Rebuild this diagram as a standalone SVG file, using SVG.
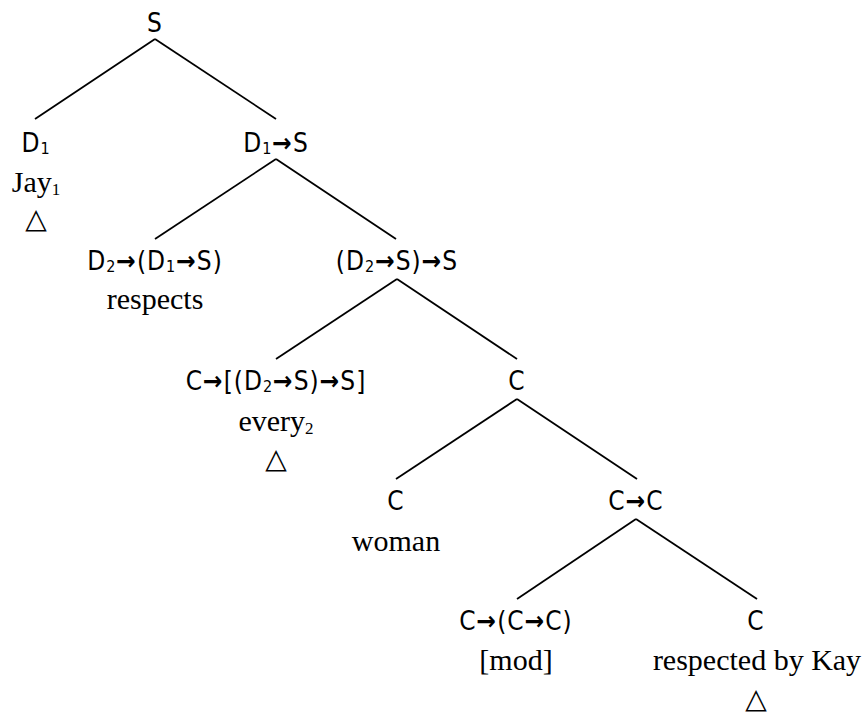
<svg xmlns="http://www.w3.org/2000/svg" width="864" height="715" viewBox="0 0 864 715">
<style>
.cat{font-family:"DejaVu Sans Condensed","DejaVu Sans",sans-serif;font-stretch:condensed;font-size:26px;letter-spacing:1px;fill:#000;text-anchor:middle}
.word{font-family:"Liberation Serif","Times New Roman",serif;font-size:30px;fill:#000;text-anchor:middle}
.sub{font-size:16px}
.wsub{font-size:17px}
.arr{font-weight:bold}
.tri{font-family:"DejaVu Sans",sans-serif;font-size:28px;fill:#000;text-anchor:middle}
.edge{stroke:#000;stroke-width:1.8;fill:none}
</style>
<rect width="864" height="715" fill="#fff"/>
<g id="connectors">
<line class="edge" x1="155" y1="39" x2="35" y2="119"/>
<line class="edge" x1="155" y1="39" x2="276" y2="119"/>
<line class="edge" x1="276" y1="159" x2="155" y2="239"/>
<line class="edge" x1="276" y1="159" x2="396" y2="239"/>
<line class="edge" x1="397" y1="279" x2="276" y2="359"/>
<line class="edge" x1="397" y1="279" x2="517" y2="359"/>
<line class="edge" x1="517" y1="399" x2="396" y2="479"/>
<line class="edge" x1="517" y1="399" x2="637" y2="479"/>
<line class="edge" x1="636" y1="519" x2="517" y2="599"/>
<line class="edge" x1="636" y1="519" x2="757" y2="599"/>
</g>
<g id="n-S"><text class="cat" x="155" y="32">S</text></g>
<g id="n-D1"><text class="cat" x="36" y="152">D<tspan class="sub" dy="2">1</tspan></text>
<text class="word" x="36" y="192">Jay<tspan class="wsub" dy="3">1</tspan></text>
<text class="tri" x="36" y="228">△</text></g>
<g id="n-D1S"><text class="cat" x="276" y="152">D<tspan class="sub" dy="2">1</tspan><tspan dy="-2" class="arr">→</tspan>S</text></g>
<g id="n-respects"><text class="cat" x="155" y="270">D<tspan class="sub" dy="2">2</tspan><tspan dy="-2" class="arr">→</tspan>(D<tspan class="sub" dy="2">1</tspan><tspan dy="-2" class="arr">→</tspan>S)</text>
<text class="word" x="155" y="309">respects</text></g>
<g id="n-D2SS"><text class="cat" x="397" y="270">(D<tspan class="sub" dy="2">2</tspan><tspan dy="-2" class="arr">→</tspan>S)<tspan class="arr">→</tspan>S</text></g>
<g id="n-every"><text class="cat" x="276" y="390">C<tspan class="arr">→</tspan>[(D<tspan class="sub" dy="2">2</tspan><tspan dy="-2" class="arr">→</tspan>S)<tspan class="arr">→</tspan>S]</text>
<text class="word" x="276" y="431">every<tspan class="wsub" dy="3">2</tspan></text>
<text class="tri" x="276" y="468">△</text></g>
<g id="n-C1"><text class="cat" x="517" y="390">C</text></g>
<g id="n-woman"><text class="cat" x="396" y="510">C</text>
<text class="word" x="396" y="551">woman</text></g>
<g id="n-CC"><text class="cat" x="636" y="510">C<tspan class="arr">→</tspan>C</text></g>
<g id="n-mod"><text class="cat" x="516" y="630">C<tspan class="arr">→</tspan>(C<tspan class="arr">→</tspan>C)</text>
<text class="word" x="516" y="670">[mod]</text></g>
<g id="n-rbk"><text class="cat" x="756" y="630">C</text>
<text class="word" x="757" y="670">respected by Kay</text>
<text class="tri" x="756" y="708">△</text></g>
</svg>
